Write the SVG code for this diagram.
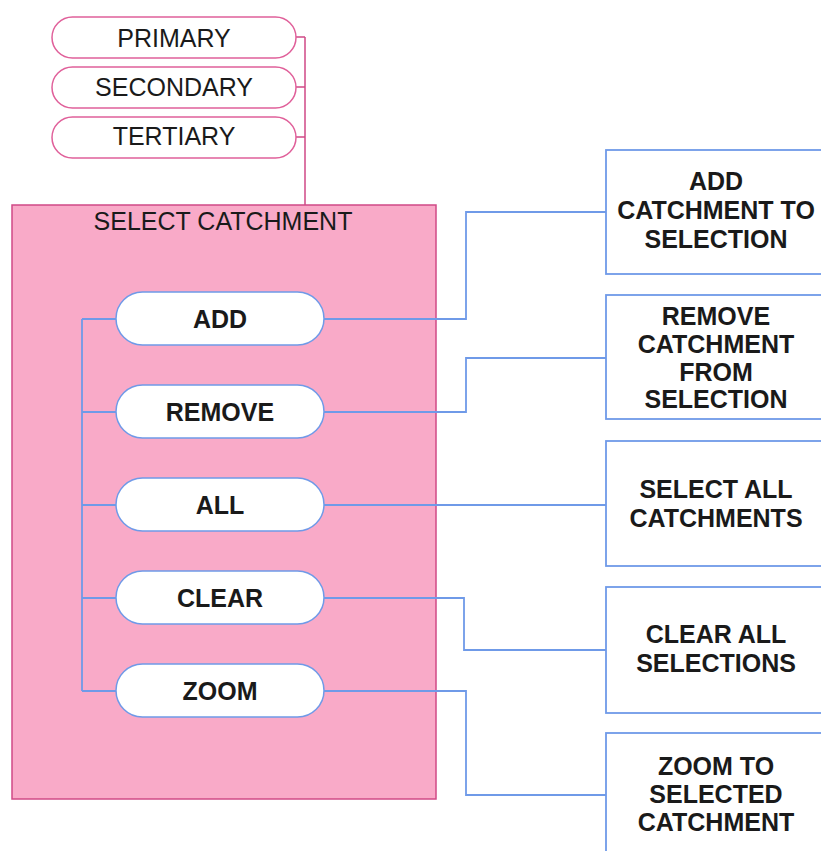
<svg xmlns="http://www.w3.org/2000/svg" width="821" height="851" viewBox="0 0 821 851">
  <style>
    .bg { fill: #ffffff; }
    .panel { fill: #f9aac8; stroke: #d04a86; stroke-width: 1.5; }
    .tag { fill: #ffffff; stroke: #e0609a; stroke-width: 1.5; }
    .pill { fill: #ffffff; stroke: #6f9ae8; stroke-width: 1.5; }
    .box { fill: #ffffff; stroke: #6f9ae8; stroke-width: 1.8; }
    .pink-line { fill: none; stroke: #d04a86; stroke-width: 1.5; }
    .blue-line { fill: none; stroke: #6f9ae8; stroke-width: 1.8; }
    text { font-family: "Liberation Sans", Arial, sans-serif; fill: #1a1a1a; text-anchor: middle; }
    .reg { font-size: 25px; }
    .bold { font-size: 25px; font-weight: bold; }
  </style>

  <rect class="bg" x="0" y="0" width="821" height="851"/>

  <!-- container panel, drawn beneath the connectors -->
  <g id="select-catchment">
    <rect class="panel" x="12" y="205" width="424" height="594"/>
    <text class="reg" x="223" y="230">SELECT CATCHMENT</text>
  </g>

  <!-- connectors -->
  <g id="connectors">
    <!-- level tags to panel -->
    <path class="pink-line" d="M296 37 H305 M296 87 H305 M296 137 H305 M305 37 V205"/>
    <!-- left bus linking the buttons -->
    <path class="blue-line" d="M82 319 V691 M82 319 H116 M82 412 H116 M82 505 H116 M82 598 H116 M82 691 H116"/>
    <!-- buttons to descriptions -->
    <path class="blue-line" d="M324 319 H466 V212 H606"/>
    <path class="blue-line" d="M324 412 H466 V358 H606"/>
    <path class="blue-line" d="M324 505 H606"/>
    <path class="blue-line" d="M324 598 H464 V650 H606"/>
    <path class="blue-line" d="M324 691 H466 V795 H606"/>
  </g>

  <g id="tag-primary">
    <rect class="tag" x="52" y="17" width="244" height="41" rx="20.5"/>
    <text class="reg" x="174" y="47">PRIMARY</text>
  </g>
  <g id="tag-secondary">
    <rect class="tag" x="52" y="67" width="244" height="41" rx="20.5"/>
    <text class="reg" x="174" y="96">SECONDARY</text>
  </g>
  <g id="tag-tertiary">
    <rect class="tag" x="52" y="117" width="244" height="41" rx="20.5"/>
    <text class="reg" x="174" y="145">TERTIARY</text>
  </g>

  <g id="btn-add">
    <rect class="pill" x="116" y="292" width="208" height="53" rx="26.5"/>
    <text class="bold" x="220" y="328">ADD</text>
  </g>
  <g id="btn-remove">
    <rect class="pill" x="116" y="385" width="208" height="53" rx="26.5"/>
    <text class="bold" x="220" y="421">REMOVE</text>
  </g>
  <g id="btn-all">
    <rect class="pill" x="116" y="478" width="208" height="53" rx="26.5"/>
    <text class="bold" x="220" y="514">ALL</text>
  </g>
  <g id="btn-clear">
    <rect class="pill" x="116" y="571" width="208" height="53" rx="26.5"/>
    <text class="bold" x="220" y="607">CLEAR</text>
  </g>
  <g id="btn-zoom">
    <rect class="pill" x="116" y="664" width="208" height="53" rx="26.5"/>
    <text class="bold" x="220" y="700">ZOOM</text>
  </g>

  <g id="desc-add">
    <rect class="box" x="606" y="150" width="230" height="124"/>
    <text class="bold" x="716" y="190">ADD</text>
    <text class="bold" x="716" y="219">CATCHMENT TO</text>
    <text class="bold" x="716" y="248">SELECTION</text>
  </g>
  <g id="desc-remove">
    <rect class="box" x="606" y="295" width="230" height="124"/>
    <text class="bold" x="716" y="325">REMOVE</text>
    <text class="bold" x="716" y="353">CATCHMENT</text>
    <text class="bold" x="716" y="381">FROM</text>
    <text class="bold" x="716" y="408">SELECTION</text>
  </g>
  <g id="desc-all">
    <rect class="box" x="606" y="441" width="230" height="125"/>
    <text class="bold" x="716" y="498">SELECT ALL</text>
    <text class="bold" x="716" y="527">CATCHMENTS</text>
  </g>
  <g id="desc-clear">
    <rect class="box" x="606" y="587" width="230" height="126"/>
    <text class="bold" x="716" y="643">CLEAR ALL</text>
    <text class="bold" x="716" y="672">SELECTIONS</text>
  </g>
  <g id="desc-zoom">
    <rect class="box" x="606" y="733" width="230" height="130"/>
    <text class="bold" x="716" y="775">ZOOM TO</text>
    <text class="bold" x="716" y="803">SELECTED</text>
    <text class="bold" x="716" y="831">CATCHMENT</text>
  </g>
</svg>
